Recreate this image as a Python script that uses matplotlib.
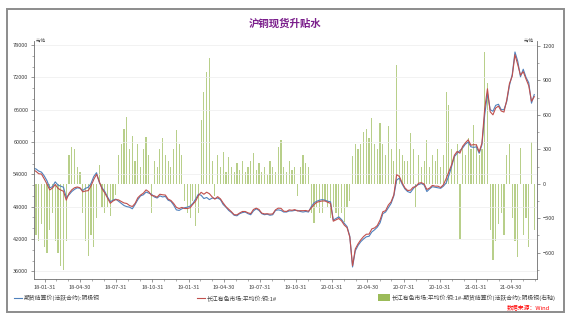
import matplotlib
matplotlib.use('Agg')
import matplotlib.pyplot as plt
from matplotlib.lines import Line2D
from matplotlib.patches import Rectangle
from matplotlib.ticker import FixedLocator, MultipleLocator
import pandas as pd

plt.rcParams['font.family'] = ['Noto Sans CJK SC', 'DejaVu Sans']

title = '沪铜现货升贴水'
series_names = ['期货结算价(活跃合约):阴极铜',
                '长江有色市场:平均价:铜:1#',
                '长江有色市场:平均价:铜:1#-期货结算价(活跃合约):阴极铜(右轴)']
unit = '元/吨'
source = '数据来源：Wind'
first_week = '2018-01-01'   # weekly (Monday) observations

futures_2018 = [55100, 55000, 54600, 54400, 53700,
                52800, 51500, 51700, 52600,
                52000, 51800, 51600, 49700,
                50200, 50800, 51200, 51500, 51400,
                51000, 51400, 51600, 52300,
                53600, 54300, 52500, 51500,
                50800, 49800, 48900, 49200, 49400,
                49000, 48600, 48200, 48000,
                47900, 47600, 48400, 49300,
                50000, 50200, 50700, 50500, 50300,
                49800, 49600, 50000, 49800,
                49900, 49200, 49000, 48300, 47400]
spread_2018 = [-300, -450, -500, -350, -550,
               -600, -400, -250, -500,
               -600, -720, -750, -500,
               250, 320, 300, 150, 100,
               -250, -500, -630, -450,
               -550, -300, 165, -200,
               -250, -200, -280, -150, -100,
               250, 350, 480, 580,
               300, 420, 200, 350,
               150, 300, 410, 250, -250,
               200, 150, 300, 400,
               250, 200, 150, 300, 470]

futures_2019 = [47300, 47600, 47800, 47900,
                48100, 48600, 49400, 50300,
                50100, 49500, 49700, 49300,
                49600, 49500, 49600, 49300, 48400,
                47900, 47300, 46900, 46400,
                46300, 46700, 46900, 47000,
                46700, 46500, 47200, 47600, 47300,
                46700, 46500, 46600, 46400,
                46500, 47300, 47400, 47300, 47000,
                47000, 47200, 47200, 47300,
                47300, 47100, 47000, 47100,
                47000, 48000, 48700, 49000, 49200]
spread_2019 = [350, 250, -150, -250,
               -300, -150, -370, -250,
               557, 800, 977, 1094,
               200, -110, 250, 150, 280,
               100, 230, 150, 100,
               180, 120, 200, 100,
               150, 200, 270, 120, 180,
               100, 150, 80, 200,
               150, 100, 320, 383, 150,
               100, 200, 120, 150,
               -110, 150, 250, 180,
               150, -250, -340, -200, -250]

futures_2020 = [49300, 49200, 49000, 48900,
                45500, 45800, 46100, 45600,
                44900, 44300, 42500, 36800, 39800,
                40800, 41500, 42000, 42400,
                42500, 43300, 43700, 44200,
                45000, 46700, 47000, 47800, 48600,
                50000, 52900, 53300, 52200,
                51300, 50800, 50600, 51300, 51900,
                52100, 52300, 52000, 50800,
                51300, 51700, 51600, 51500,
                51400, 51800, 52400, 53800, 55500,
                57300, 57900, 58400, 58900]
spread_2020 = [-250, -150, -200, -300,
               -200, -250, -300, -250,
               -330, -200, -150, 240, 350,
               300, 350, 450, 480,
               400, 570, 350, 300,
               530, 350, 250, 500, 300,
               200, 1035, 300, 250,
               200, 200, 440, 300, -200,
               250, 150, 200, 380,
               150, 250, 200, 300,
               150, 250, 800, 690, 300,
               250, 350, -480, 300]

futures_2021 = [59600, 60000, 59100, 59000,
                59100, 57900, 59500, 65000,
                69000, 66000, 65700, 66800, 67000,
                66000, 66000, 67500, 70500,
                72500, 76700, 75000, 72100, 73500,
                72000, 71000, 67200, 68800]
spread_2021 = [250, 400, 300, 515,
               350, 250, 300, 1150,
               880, -400, -660, -500, -350,
               -250, -450, 250, 350,
               -300, -500, -640, 310, -450,
               -300, -550, 360, -400]

x_tick_labels = ['18-01-31', '18-04-30', '18-07-31', '18-10-31',
                 '19-01-31', '19-04-30', '19-07-31', '19-10-31',
                 '20-01-31', '20-04-30', '20-07-31', '20-10-31',
                 '21-01-31', '21-04-30']
left_ticks = [36000, 42000, 48000, 54000, 60000, 66000, 72000, 78000]
right_ticks = [-600, -300, 0, 300, 600, 900, 1200]

futures = futures_2018 + futures_2019 + futures_2020 + futures_2021
spread = spread_2018 + spread_2019 + spread_2020 + spread_2021
spot = [f + s for f, s in zip(futures, spread)]
dates = pd.date_range(first_week, periods=len(futures), freq='W-MON')

W, H = 574, 322
fig = plt.figure(figsize=(W / 100, H / 100), dpi=100)
fig.patch.set_facecolor('white')

def fx(px):
    return px / W

def fy(py):
    return 1 - py / H

fig.add_artist(Rectangle((fx(7), fy(312)), fx(564) - fx(7), fy(9) - fy(312),
                         transform=fig.transFigure, fill=False,
                         edgecolor='#8C8C8C', linewidth=1.4))

ax = fig.add_axes([fx(34), fy(279), fx(537) - fx(34), fy(41) - fy(279)])
ax2 = ax.twinx()
ax.set_zorder(ax2.get_zorder() + 1)
ax.patch.set_visible(False)

BLUE = '#4F81BD'
RED = '#C0504D'
GREEN = '#9BBB59'

ax2.bar(dates, spread, width=3.0, color=GREEN, alpha=0.7, linewidth=0)
ax.plot(dates, futures, color=BLUE, lw=0.8)
ax.plot(dates, spot, color=RED, lw=0.8)

ax.set_ylim(34570, 78740)
ax2.set_ylim(-829, 1244)
ax.set_xlim(pd.Timestamp('2018-01-03'), pd.Timestamp('2021-07-05'))

tick_dates = [pd.Timestamp('20' + t) for t in x_tick_labels]
month_ends = pd.date_range('2018-01-31', '2021-06-30', freq='ME')
ax.xaxis.set_major_locator(FixedLocator([matplotlib.dates.date2num(d) for d in tick_dates]))
ax.xaxis.set_minor_locator(FixedLocator([matplotlib.dates.date2num(d) for d in month_ends]))
ax.set_xticklabels(x_tick_labels)

ax.yaxis.set_major_locator(FixedLocator(left_ticks))
ax.yaxis.set_minor_locator(MultipleLocator(2000))
ax2.yaxis.set_major_locator(FixedLocator(right_ticks))
ax2.yaxis.set_minor_locator(MultipleLocator(150))

SP = '#6E6E6E'
for a in (ax, ax2):
    a.spines['top'].set_visible(False)
    for s in ('left', 'right', 'bottom'):
        a.spines[s].set_color(SP)
        a.spines[s].set_linewidth(0.6)
    a.tick_params(which='major', direction='out', length=2.5, width=0.5,
                  colors=SP, labelsize=4, labelcolor='#404040', pad=1.5)
    a.tick_params(which='minor', direction='out', length=1.5, width=0.4, colors=SP)
ax.spines['right'].set_visible(False)
ax2.spines['left'].set_visible(False)
ax2.spines['bottom'].set_visible(False)

ax.yaxis.grid(True, which='major', color='#EDEDED', linewidth=0.5)
ax.set_axisbelow(True)

fig.text(fx(36), fy(40), unit, fontsize=3, color='#404040', ha='left', va='center')
fig.text(fx(534), fy(40), unit, fontsize=3, color='#404040', ha='right', va='center')

fig.text(fx(285), fy(24), title, fontsize=7.5, fontweight='bold',
         color='#7B1E8C', ha='center', va='center')

LY = fy(298)
FS = 4.2
fig.add_artist(Line2D([fx(14), fx(22)], [LY, LY], color=BLUE, lw=0.8,
                      transform=fig.transFigure))
fig.text(fx(24), LY, series_names[0], fontsize=FS, color='#404040', ha='left', va='center')
fig.add_artist(Line2D([fx(197), fx(205)], [LY, LY], color=RED, lw=0.8,
                      transform=fig.transFigure))
fig.text(fx(207), LY, series_names[1], fontsize=FS, color='#404040', ha='left', va='center')
fig.add_artist(Rectangle((fx(378), fy(301)), fx(390) - fx(378), fy(294) - fy(301),
                         transform=fig.transFigure, facecolor=GREEN, edgecolor='none'))
fig.text(fx(392), LY, series_names[2], fontsize=FS, color='#404040', ha='left', va='center')

fig.text(fx(550), fy(307), source, fontsize=FS, color='#FF0000', style='italic',
         ha='right', va='center')

fig.savefig('out.png', dpi=100, facecolor='white')
